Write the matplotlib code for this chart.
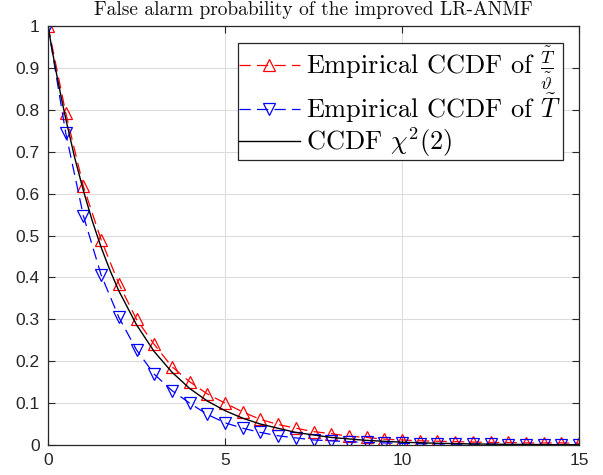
import matplotlib
matplotlib.use('Agg')
import matplotlib.pyplot as plt

# values
x_emp = [0, 0.5, 1, 1.5, 2, 2.5, 3, 3.5, 4, 4.5, 5, 5.5, 6, 6.5, 7, 7.5,
         8, 8.5, 9, 9.5, 10, 10.5, 11, 11.5, 12, 12.5, 13, 13.5, 14, 14.5, 15]
ccdf_ratio = [1.0, 0.793, 0.617, 0.49, 0.385, 0.30, 0.24, 0.187, 0.151, 0.122,
              0.10, 0.079, 0.061, 0.049, 0.040, 0.032, 0.027, 0.021, 0.018, 0.014,
              0.012, 0.010, 0.009, 0.008, 0.007, 0.006, 0.006, 0.005, 0.005, 0.005, 0.004]
ccdf_T = [1.0, 0.745, 0.547, 0.406, 0.305, 0.227, 0.169, 0.13, 0.10, 0.073,
          0.053, 0.040, 0.030, 0.022, 0.017, 0.012, 0.010, 0.008, 0.006, 0.005,
          0.004, 0.003, 0.003, 0.002, 0.002, 0.002, 0.001, 0.001, 0.001, 0.001, 0.001]

x_chi = [0, 0.125, 0.25, 0.375, 0.5, 0.75, 1, 1.25, 1.5, 1.75, 2, 2.5, 3, 3.5, 4,
         4.5, 5, 5.5, 6, 7, 8, 9, 10, 11, 12, 13, 15]
ccdf_chi = [1.0, 0.939, 0.882, 0.829, 0.779, 0.687, 0.607, 0.535, 0.472, 0.417,
            0.368, 0.287, 0.223, 0.174, 0.135, 0.105, 0.082, 0.064, 0.050, 0.030,
            0.018, 0.011, 0.0067, 0.0041, 0.0025, 0.0015, 0.0006]

title = 'False alarm probability of the improved LR-ANMF'
labels = [r'Empirical CCDF of $\frac{\tilde{T}}{\tilde{\vartheta}}$',
          r'Empirical CCDF of $\tilde{T}\ $',
          r'CCDF $\chi^2(2)$']

plt.rcParams['mathtext.fontset'] = 'cm'

fig = plt.figure(figsize=(6.03, 4.75), dpi=100)
ax = fig.add_axes([48 / 603, 1 - 445 / 475, 531 / 603, 419 / 475])

ax.plot(x_emp, ccdf_ratio, color='red', ls=(0, (9, 5)), lw=0.9, marker='^',
        ms=9, mfc='none', mec='red', mew=0.9, label=labels[0])
ax.plot(x_emp, ccdf_T, color='blue', ls=(0, (9, 5)), lw=0.9, marker='v',
        ms=9, mfc='none', mec='blue', mew=0.9, label=labels[1])
ax.plot(x_chi, ccdf_chi, color='black', lw=1.0, label=labels[2])

ax.set_xlim(0, 15)
ax.set_ylim(0, 1)
ax.set_xticks([0, 5, 10, 15])
ax.set_yticks([i / 10 for i in range(11)])
ax.set_yticklabels(['0', '0.1', '0.2', '0.3', '0.4', '0.5', '0.6', '0.7', '0.8', '0.9', '1'])
ax.grid(True, color='#dcdcdc', lw=0.8)
ax.set_axisbelow(True)
for s in ax.spines.values():
    s.set_color('#262626')
    s.set_linewidth(0.9)
ax.tick_params(direction='in', top=True, right=True, length=5, width=0.8,
               color='#262626', labelcolor='#262626', labelsize=12.5, pad=6)
for lab in ax.get_xticklabels() + ax.get_yticklabels():
    lab.set_fontfamily('Liberation Sans')

ax.set_title(title, fontfamily='cmr10', fontsize=14, pad=8, color='#111111')

leg = ax.legend(loc='upper right', bbox_to_anchor=(0.97, 0.96), numpoints=1,
                prop={'family': 'cmr10', 'size': 19}, handlelength=2.3,
                handletextpad=0.25, labelspacing=0.0, borderpad=0.05,
                borderaxespad=0, fancybox=False, framealpha=1)
leg.get_frame().set_edgecolor('#262626')
leg.get_frame().set_linewidth(0.9)

fig.savefig('out.png', dpi=100)
